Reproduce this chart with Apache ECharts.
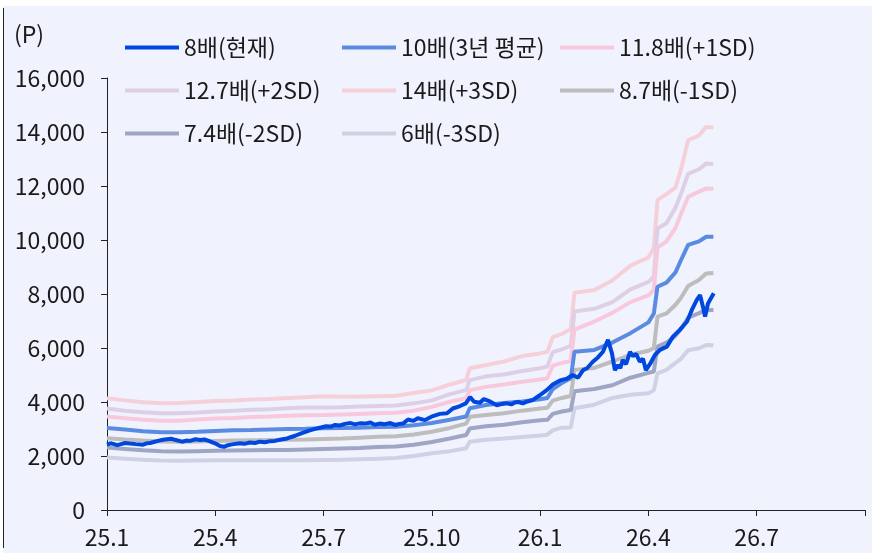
<!DOCTYPE html>
<html>
<head>
<meta charset="utf-8">
<script src="https://cdn.jsdelivr.net/npm/echarts@6/dist/echarts.min.js"></script>
<style>
html,body{margin:0;padding:0;background:#ffffff;}
#chart{width:872px;height:553px;}
</style>
</head>
<body>
<div id="chart"></div>
<script>
// x positions in months since 2025.01
const bandMonths = [0,0.5,1,1.5,2,2.5,3,3.5,4,4.5,5,5.5,6,6.5,7,7.5,8,8.5,9,9.5,9.95,10.05,10.5,11,11.5,12,12.2,12.35,12.6,12.85,12.95,13.5,14,14.5,15,15.15,15.25,15.5,15.75,15.9,16.1,16.4,16.6,16.8];

const band14 = [4140,4060,3990,3950,3960,4000,4040,4060,4090,4110,4150,4180,4210,4190,4200,4215,4230,4330,4430,4650,4815,5250,5370,5500,5700,5800,5860,6400,6520,6700,8050,8150,8500,9050,9350,9700,11480,11700,11950,12600,13700,13870,14190,14170];
const band127 = [3760,3680,3620,3580,3580,3610,3650,3680,3710,3730,3770,3800,3800,3810,3830,3850,3870,3950,4060,4290,4440,4810,4950,5020,5150,5250,5310,5850,5950,6080,7350,7450,7700,8170,8450,8640,10430,10620,11200,11700,12450,12620,12830,12810];
const band118 = [3460,3400,3340,3310,3310,3350,3390,3410,3440,3460,3490,3510,3520,3540,3560,3580,3600,3680,3820,4010,4140,4440,4560,4650,4750,4830,4880,5350,5450,5520,6680,6980,7300,7700,7950,8150,9720,9950,10450,10950,11600,11790,11910,11900];
const band10 = [3040,2980,2920,2880,2880,2900,2930,2950,2960,2980,3000,3010,3030,3040,3050,3070,3080,3140,3220,3340,3460,3770,3890,3960,4020,4100,4150,4480,4700,4880,5860,5930,6200,6550,6950,7280,8270,8420,8800,9250,9820,9950,10120,10120];
const band87 = [2660,2610,2570,2540,2530,2540,2560,2570,2580,2590,2600,2610,2630,2650,2680,2710,2730,2800,2900,3040,3200,3450,3520,3580,3680,3760,3790,4050,4150,4220,5190,5260,5500,5750,5900,6000,7160,7280,7600,7850,8300,8520,8760,8780];
const band74 = [2310,2260,2210,2180,2170,2180,2190,2200,2210,2220,2220,2240,2260,2280,2300,2330,2350,2420,2520,2650,2780,3020,3100,3160,3250,3320,3340,3560,3650,3700,4400,4480,4620,4900,5080,5130,6050,6200,6450,6700,7120,7290,7400,7410];
const band6 = [1940,1900,1860,1830,1820,1830,1840,1840,1840,1840,1840,1840,1850,1860,1880,1900,1930,2000,2100,2180,2290,2530,2600,2650,2700,2760,2790,2950,3050,3060,3770,3900,4150,4270,4320,4440,5060,5190,5450,5600,5920,5990,6110,6100];

const actualMonths = [0,0.1,0.17,0.28,0.36,0.5,0.64,0.8,1.0,1.1,1.19,1.3,1.41,1.55,1.66,1.78,1.88,2.08,2.2,2.3,2.45,2.58,2.7,2.8,2.99,3.13,3.24,3.35,3.46,3.68,3.8,3.96,4.1,4.24,4.38,4.52,4.65,4.79,4.99,5.21,5.4,5.62,5.84,6.07,6.2,6.32,6.45,6.59,6.75,6.87,7.0,7.15,7.3,7.42,7.55,7.7,7.85,7.98,8.1,8.2,8.34,8.48,8.61,8.81,9.03,9.22,9.42,9.58,9.78,9.94,10.06,10.17,10.33,10.44,10.61,10.8,10.95,11.08,11.2,11.3,11.4,11.52,11.65,11.8,11.99,12.19,12.35,12.55,12.74,12.9,13.05,13.19,13.3,13.46,13.6,13.74,13.88,13.99,14.07,14.16,14.22,14.29,14.38,14.49,14.57,14.66,14.76,14.85,14.93,15.04,15.18,15.32,15.51,15.68,15.87,16.07,16.2,16.34,16.43,16.51,16.57,16.65,16.81];
const actualValues = [2420,2470,2450,2400,2430,2480,2460,2440,2420,2470,2480,2520,2560,2600,2620,2640,2600,2530,2570,2560,2620,2590,2610,2570,2470,2370,2340,2400,2430,2470,2450,2500,2480,2530,2510,2550,2560,2600,2650,2750,2850,2950,3030,3100,3090,3150,3130,3190,3220,3170,3210,3200,3240,3160,3200,3180,3220,3150,3190,3200,3350,3300,3400,3330,3480,3560,3580,3760,3850,3950,4180,4010,3970,4110,4020,3880,3930,3950,3910,3980,4000,3950,4020,4080,4250,4450,4650,4800,4860,5000,4900,5180,5250,5490,5650,5860,6300,5800,5180,5370,5250,5560,5400,5860,5700,5780,5490,5600,5180,5400,5740,5930,6050,6420,6670,6980,7400,7780,7960,7530,7160,7650,8030];

const xTickLabels = ['25.1','25.4','25.7','25.10','26.1','26.4','26.7',''];
const seriesNames = ['8배(현재)','10배(3년 평균)','11.8배(+1SD)','12.7배(+2SD)','14배(+3SD)','8.7배(-1SD)','7.4배(-2SD)','6배(-3SD)'];
const seriesColors = ['#0047e0','#5b8be0','#f8c8dc','#ddd0e6','#f6d0d8','#bdbdbd','#9ea6c4','#cfd1e4'];

const FONT = "'Noto Sans CJK KR', 'Noto Sans', sans-serif";
const TXT = '#1a1a1a';

function pairs(xs, ys){ return xs.map((x,i)=>[x, ys[i]]); }

const bandData = [band10, band118, band127, band14, band87, band74, band6];
const series = [];
const drawOrder = [4,3,2,7,6,5,1];
drawOrder.forEach(idx=>{
  const arr = bandData[idx-1];
  series.push({
    name: seriesNames[idx], type:'line', symbol:'none', showSymbol:false,
    data: pairs(bandMonths, arr),
    lineStyle:{color:seriesColors[idx], width:4},
    itemStyle:{color:seriesColors[idx]},
    emphasis:{disabled:true}, animation:false
  });
});
series.push({
  name: seriesNames[0], type:'line', symbol:'none', showSymbol:false,
  data: pairs(actualMonths, actualValues),
  lineStyle:{color:seriesColors[0], width:4},
  itemStyle:{color:seriesColors[0]},
  emphasis:{disabled:true}, animation:false
});

function legendCol(left, names){
  return {
    orient:'vertical', left:left, top:36, padding:0,
    icon:'rect', itemWidth:54, itemHeight:4, itemGap:20,
    data: names,
    textStyle:{fontFamily:FONT, fontSize:23, lineHeight:23, color:TXT},
    selectedMode:false
  };
}

const chart = echarts.init(document.getElementById('chart'), null, {renderer:'canvas'});
chart.setOption({
  backgroundColor:'#f0f3fd',
  animation:false,
  textStyle:{fontFamily:FONT},
  grid:{left:107, right:7, top:78, bottom:43, containLabel:false},
  legend:[
    legendCol(125, [seriesNames[0], seriesNames[3], seriesNames[6]]),
    legendCol(342, [seriesNames[1], seriesNames[4], seriesNames[7]]),
    legendCol(560, [seriesNames[2], seriesNames[5]])
  ],
  graphic:[
    {type:'rect', shape:{x:0,y:0,width:872,height:6}, style:{fill:'#ffffff'}, silent:true},
    {type:'rect', shape:{x:0,y:0,width:3,height:553}, style:{fill:'#ffffff'}, silent:true},
    {type:'line', shape:{x1:3.5,y1:8,x2:3.5,y2:548}, style:{stroke:'#222',lineWidth:1}, silent:true},
    {type:'text', left:14, top:23, style:{text:'(P)', font:"23px 'Noto Sans CJK KR', sans-serif", fill:TXT}, silent:true}
  ],
  xAxis:{
    type:'value', min:0, max:21, interval:3,
    axisLine:{show:true, lineStyle:{color:'#222', width:1}},
    axisTick:{show:true, length:6, lineStyle:{color:'#222'}},
    splitLine:{show:false},
    axisLabel:{margin:16, fontSize:23, color:TXT, fontFamily:FONT,
      formatter:v=>xTickLabels[Math.round(v/3)]}
  },
  yAxis:{
    type:'value', min:0, max:16000, interval:2000,
    axisLine:{show:true, lineStyle:{color:'#222', width:1}},
    axisTick:{show:true, length:6, lineStyle:{color:'#222'}},
    splitLine:{show:false},
    axisLabel:{margin:22, fontSize:23, color:TXT, fontFamily:FONT,
      formatter:v=>v.toLocaleString('en-US')}
  },
  series: series
});
</script>
</body>
</html>
